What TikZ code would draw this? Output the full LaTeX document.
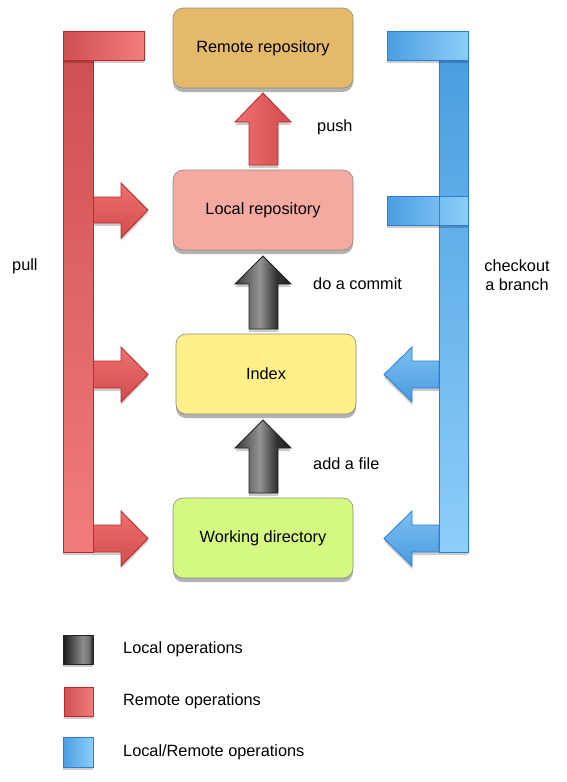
\documentclass[tikz,border=0pt]{standalone}
\usepackage{fontspec}
\setmainfont{Liberation Sans}
\usetikzlibrary{shadows}
\definecolor{remotec}{HTML}{E5B96A}
\definecolor{localc}{HTML}{F4AAA0}
\definecolor{indexc}{HTML}{FFF08A}
\definecolor{workc}{HTML}{D5F880}
\definecolor{boxline}{HTML}{8A8A80}
\definecolor{redline}{HTML}{C0282A}
\definecolor{redA}{HTML}{CF5050}
\definecolor{redB}{HTML}{F27C7C}
\definecolor{redC}{HTML}{EE7070}
\definecolor{redD}{HTML}{D24C4C}
\definecolor{blueline}{HTML}{2A7ED6}
\definecolor{blueA}{HTML}{4A9EE0}
\definecolor{blueB}{HTML}{8DCEFA}
\definecolor{blueC}{HTML}{7CC0F2}
\definecolor{blueD}{HTML}{4A9AE0}
\definecolor{grayline}{HTML}{222222}
\pgfdeclarehorizontalshading{grayarrow}{100bp}{color(0bp)=(black!78); color(25bp)=(black!78); color(47bp)=(black!42); color(62bp)=(black!80); color(75bp)=(black!88); color(100bp)=(black!88)}
\pgfdeclarehorizontalshading{graybox}{100bp}{color(0bp)=(black!90); color(25bp)=(black!90); color(58bp)=(black!45); color(68bp)=(black!55); color(75bp)=(black!88); color(100bp)=(black!88)}
\tikzset{
  repobox/.style={draw=boxline, line width=0.6pt, rounded corners=10pt,
    minimum width=180pt, minimum height=80pt,
    font=\fontsize{16.3}{19}\selectfont,
    drop shadow={shadow xshift=0pt, shadow yshift=-4pt, opacity=0.3, fill=black}},
  lbl/.style={font=\fontsize{16.3}{19}\selectfont, inner sep=0pt},
  shd/.style={drop shadow={shadow xshift=0pt, shadow yshift=-3pt, opacity=0.2, fill=black}},
  redbarv/.style={draw=redline, line width=0.8pt, top color=redA, bottom color=redB, shd},
  redbarh/.style={draw=redline, line width=0.8pt, left color=redA, right color=redB, shd},
  redarr/.style={draw=redline, line width=0.8pt, top color=redC, bottom color=redD, shd},
  pusharr/.style={draw=redline, line width=0.8pt, left color=redC, right color=redD, shd},
  bluebarv/.style={draw=blueline, line width=0.8pt, top color=blueA, bottom color=blueB, shd},
  bluebarh/.style={draw=blueline, line width=0.8pt, left color=blueA, right color=blueB, shd},
  bluearr/.style={draw=blueline, line width=0.8pt, top color=blueC, bottom color=blueD, shd},
  grayarr/.style={draw=grayline, line width=0.8pt, shading=grayarrow, shd},
}
\begin{document}
\begin{tikzpicture}[x=1pt, y=-1pt]
\useasboundingbox (0,0) rectangle (567,782);

% boxes
\node[repobox, fill=remotec] (remote) at (263,48) {Remote repository};
\node[repobox, fill=localc] (local) at (263,210) {Local repository};
\node[repobox, fill=indexc] (index) at (266,374) {Index};
\node[repobox, fill=workc] (work) at (263,538) {Working directory};

% up arrows
\draw[pusharr] (249,165) -- (249,122) -- (235,122) -- (263,93) -- (291,122) -- (278,122) -- (278,165) -- cycle;
\draw[grayarr] (249,329) -- (249,284) -- (235,284) -- (263,256) -- (291,284) -- (278,284) -- (278,329) -- cycle;
\draw[grayarr] (249,493) -- (249,448) -- (235,448) -- (263,420) -- (291,448) -- (278,448) -- (278,493) -- cycle;

% red bracket
\draw[redarr] (93,197) -- (121,197) -- (121,183) -- (148,210) -- (121,238) -- (121,223) -- (93,223) -- cycle;
\draw[redarr] (93,361) -- (121,361) -- (121,347) -- (148,374.5) -- (121,402) -- (121,388) -- (93,388) -- cycle;
\draw[redarr] (93,525) -- (121,525) -- (121,511) -- (148,538.5) -- (121,566) -- (121,552) -- (93,552) -- cycle;
\draw[redbarv] (63,60) rectangle (93,552);
\draw[redbarh] (63,31) rectangle (144,60);

% blue bracket
\draw[bluearr] (439,361) -- (412,361) -- (412,347) -- (384,374.5) -- (412,402) -- (412,388) -- (439,388) -- cycle;
\draw[bluearr] (439,525) -- (412,525) -- (412,511) -- (384,538.5) -- (412,566) -- (412,552) -- (439,552) -- cycle;
\draw[bluebarv] (439,60) rectangle (468,552);
\draw[bluebarh] (387,31) rectangle (468,60);
\draw[bluebarh] (387,196) rectangle (468,225);
\draw[blueline, line width=0.8pt] (439,196) -- (439,225);

% labels
\node[lbl, anchor=west] (lpush) at (317,127) {push};
\node[lbl, anchor=west] (lcommit) at (313,284) {do a commit};
\node[lbl, anchor=west] (ladd) at (313,464) {add a file};
\node[lbl, anchor=west] (lpull) at (12,266) {pull};
\node[lbl, align=center] (lcheck) at (517,275) {checkout\\a branch};

% legend
\draw[grayline, line width=0.8pt, shading=graybox, shd] (63,635) rectangle (93,664);
\draw[redbarh] (64,687) rectangle (93,716);
\draw[bluebarh] (63,737) rectangle (93,767);
\node[lbl, anchor=west] (leg1) at (123,649.5) {Local operations};
\node[lbl, anchor=west] (leg2) at (123,701.5) {Remote operations};
\node[lbl, anchor=west] (leg3) at (123,752) {Local/Remote operations};
\end{tikzpicture}
\end{document}
